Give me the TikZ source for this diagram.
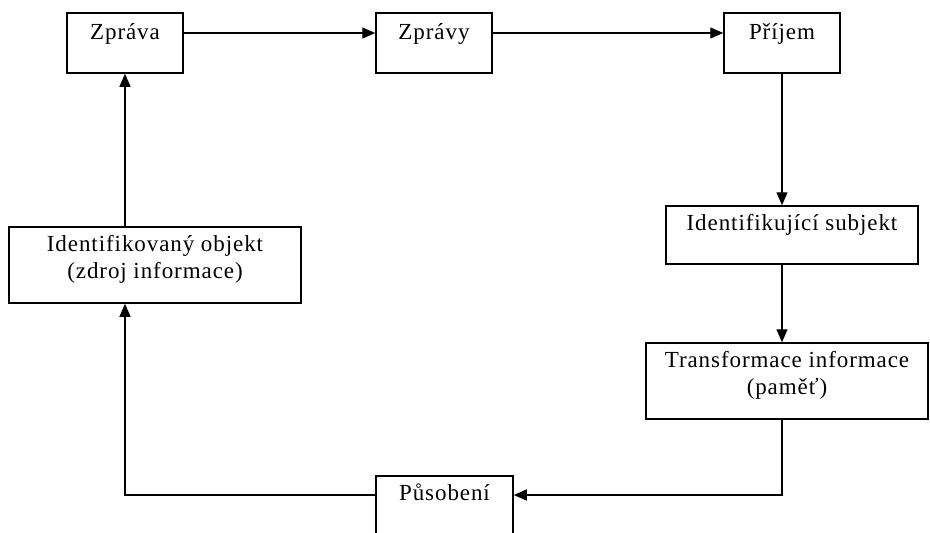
\documentclass[tikz,border=0pt]{standalone}
\usepackage{fontspec}
\setmainfont{Liberation Serif}[LetterSpace=4]
\usetikzlibrary{arrows.meta}
\tikzset{   block/.style = {draw, fill=white, line width=1.5pt, rectangle, inner sep=0pt, align=center, font=\fontsize{23}{26.5}\selectfont},
            arr/.style = {line width=1.3pt, -{Triangle[length=13pt, width=11pt]}}}
\begin{document}
\begin{tikzpicture}[x=1pt, y=-1pt]
    \useasboundingbox (0,0) rectangle (930,533);
    \node[block, minimum width=116pt, text height=26pt, text depth=34pt](m1)at(125,43){Zpráva};
    \node[block, minimum width=116pt, text height=26pt, text depth=34pt](m2)at(434,43){Zprávy};
    \node[block, minimum width=116pt, text height=26pt, text depth=34pt](r)at(782,43){Příjem};
    \node[block, minimum width=252pt, text height=24pt, text depth=34pt](id)at(792,235){Identifikující subjekt};
    \node[block, minimum width=282pt, text height=51pt, text depth=25pt](tr)at(787,381){Transformace informace\\(paměť)};
    \node[block, minimum width=292pt, text height=51pt, text depth=25pt](obj)at(155,265){Identifikovaný objekt\\(zdroj informace)};
    \node[block, minimum width=137pt, text height=24pt, text depth=36pt](act)at(444.5,506){Působení};

    \draw[arr]([yshift=10pt]m1.east)--([yshift=10pt]m2.west);
    \draw[arr]([yshift=10pt]m2.east)--([yshift=10pt]r.west);
    \draw[arr](r.south)--(r.south |- id.north);
    \draw[arr](r.south |- id.south)--(r.south |- tr.north);
    \draw[arr](r.south |- tr.south)|-([yshift=11pt]act.east);
    \draw[arr]([yshift=11pt]act.west)-|(m1.south |- obj.south);
    \draw[arr](m1.south |- obj.north)--(m1.south);
\end{tikzpicture}
\end{document}
